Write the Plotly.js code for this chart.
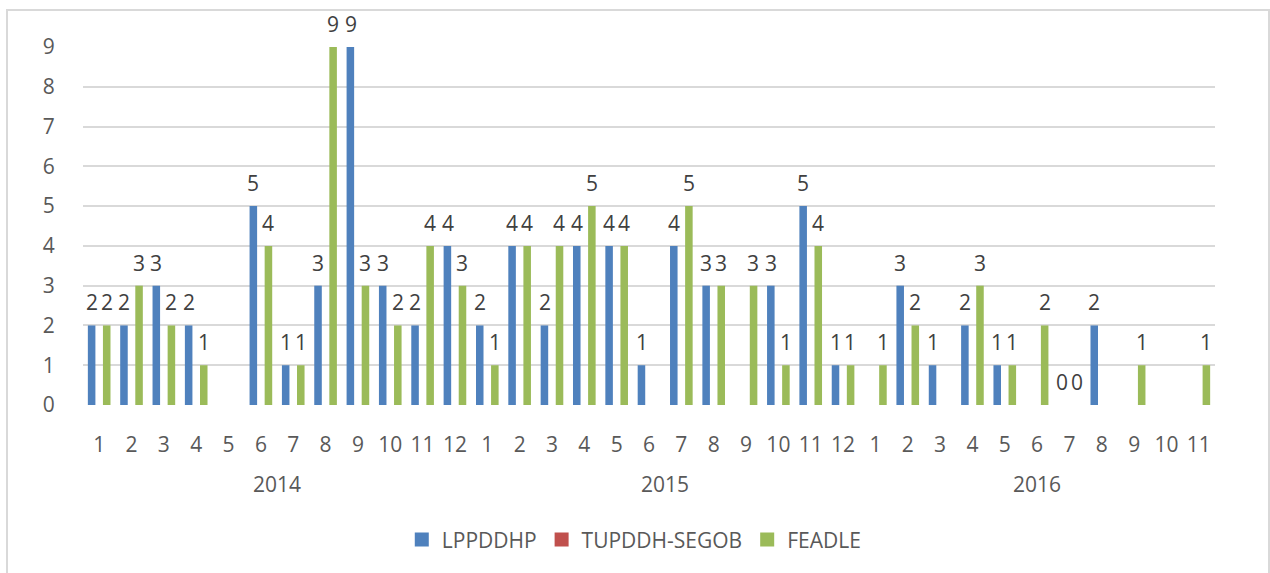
<!DOCTYPE html>
<html>
<head>
<meta charset="utf-8">
<script src="https://cdn.plot.ly/plotly-3.0.1.min.js"></script>
<style>
  html, body { margin: 0; padding: 0; background: #fff; }
  #wrap { position: relative; width: 1270px; height: 573px; overflow: hidden; }
  #chart { position: absolute; left: 0; top: 0; width: 1270px; height: 573px; }
  #frame { position: absolute; left: 6px; top: 9px; width: 1260px; height: 620px;
           border: 2px solid #D9D9D9; pointer-events: none; }
</style>
</head>
<body>
<div id="wrap">
  <div id="chart"></div>
  <div id="frame"></div>
</div>
<script>
// ---- data ----
const years = ['2014', '2015', '2016'];
const months2014 = [1, 2, 3, 4, 5, 6, 7, 8, 9, 10, 11, 12];
const months2015 = [1, 2, 3, 4, 5, 6, 7, 8, 9, 10, 11, 12];
const months2016 = [1, 2, 3, 4, 5, 6, 7, 8, 9, 10, 11];
const seriesNames = ['LPPDDHP', 'TUPDDH-SEGOB', 'FEADLE'];
const lppddhp = [2, 2, 3, 2, null, 5, 1, 3, 9, 3, 2, 4,
                 2, 4, 2, 4, 4, 1, 4, 3, null, 3, 5, 1,
                 null, 3, 1, 2, 1, null, 0, 2, null, null, null];
const tupddhSegob = [null, null, null, null, null, null, null, null, null, null, null, null,
                     null, null, null, null, null, null, null, null, null, null, null, null,
                     null, null, null, null, null, null, null, null, null, null, null];
const feadle = [2, 3, 2, 1, null, 4, 1, 9, 3, 2, 4, 3,
                1, 4, 4, 5, 4, null, 5, 3, 3, 1, 4, 1,
                1, 2, null, 3, 1, 2, 0, null, 1, null, 1];

// ---- build categories ----
const monthGroups = [months2014, months2015, months2016];
const cats = [], tickText = [];
monthGroups.forEach((ms, gi) => ms.forEach(m => { cats.push(years[gi] + '-' + m); tickText.push(String(m)); }));

const colors = ['#4F81BD', '#C0504D', '#9BBB59'];
const values = [lppddhp, tupddhSegob, feadle];
const FONT = '"Open Sans", "DejaVu Sans", sans-serif';
const TXT = '#595959';
const FS = 21;

const traces = values.map((v, k) => ({
  type: 'bar', name: seriesNames[k], x: cats, y: v, showlegend: false,
  marker: { color: colors[k], line: { width: 0 } },
  hoverinfo: 'x+y+name'
}));
// legend entries with square keys
values.forEach((v, k) => traces.push({
  type: 'scatter', mode: 'markers', name: seriesNames[k], x: [null], y: [null],
  marker: { symbol: 'square', size: 14, color: colors[k] }, showlegend: true
}));

// data labels (above each bar of its series)
const slotShift = [-7.4, 0, 7.4];
const annotations = [];
values.forEach((v, k) => {
  v.forEach((val, i) => {
    if (val === null) return;
    annotations.push({
      x: cats[i], y: val, xref: 'x', yref: 'y', text: String(val),
      showarrow: false, xshift: slotShift[k], yshift: 23,
      font: { family: FONT, size: FS, color: '#404040' }
    });
  });
});
// year group labels
let start = 0;
monthGroups.forEach((ms, gi) => {
  annotations.push({
    x: start + (ms.length - 1) / 2, y: -0.2207, xref: 'x', yref: 'paper',
    yanchor: 'middle', text: years[gi], showarrow: false,
    font: { family: FONT, size: FS, color: TXT }
  });
  start += ms.length;
});

const layout = {
  width: 1270, height: 573,
  margin: { l: 83, r: 55, t: 47, b: 168 },
  paper_bgcolor: '#ffffff', plot_bgcolor: '#ffffff',
  font: { family: FONT, size: FS, color: TXT },
  barmode: 'group', bargap: 0.3, bargroupgap: 0,
  showlegend: true,
  legend: {
    orientation: 'h', x: 0.487, xanchor: 'center', y: -0.377, yanchor: 'middle',
    font: { family: FONT, size: FS, color: TXT }, itemclick: false, itemwidth: 30
  },
  xaxis: {
    type: 'category', tickmode: 'array', tickvals: cats, ticktext: tickText,
    showgrid: false, zeroline: false, showline: false,
    ticks: 'outside', ticklen: 21, tickcolor: 'rgba(0,0,0,0)',
    tickfont: { family: FONT, size: FS, color: TXT }, tickangle: 0
  },
  yaxis: {
    range: [0, 9], dtick: 1, tick0: 0,
    showgrid: true, gridcolor: '#D9D9D9', gridwidth: 2,
    zeroline: false, showline: false,
    ticks: 'outside', ticklen: 23, tickcolor: 'rgba(0,0,0,0)',
    tickfont: { family: FONT, size: FS, color: TXT }
  },
  annotations: annotations
};

Plotly.newPlot('chart', traces, layout, { displayModeBar: false, staticPlot: true });
</script>
</body>
</html>
